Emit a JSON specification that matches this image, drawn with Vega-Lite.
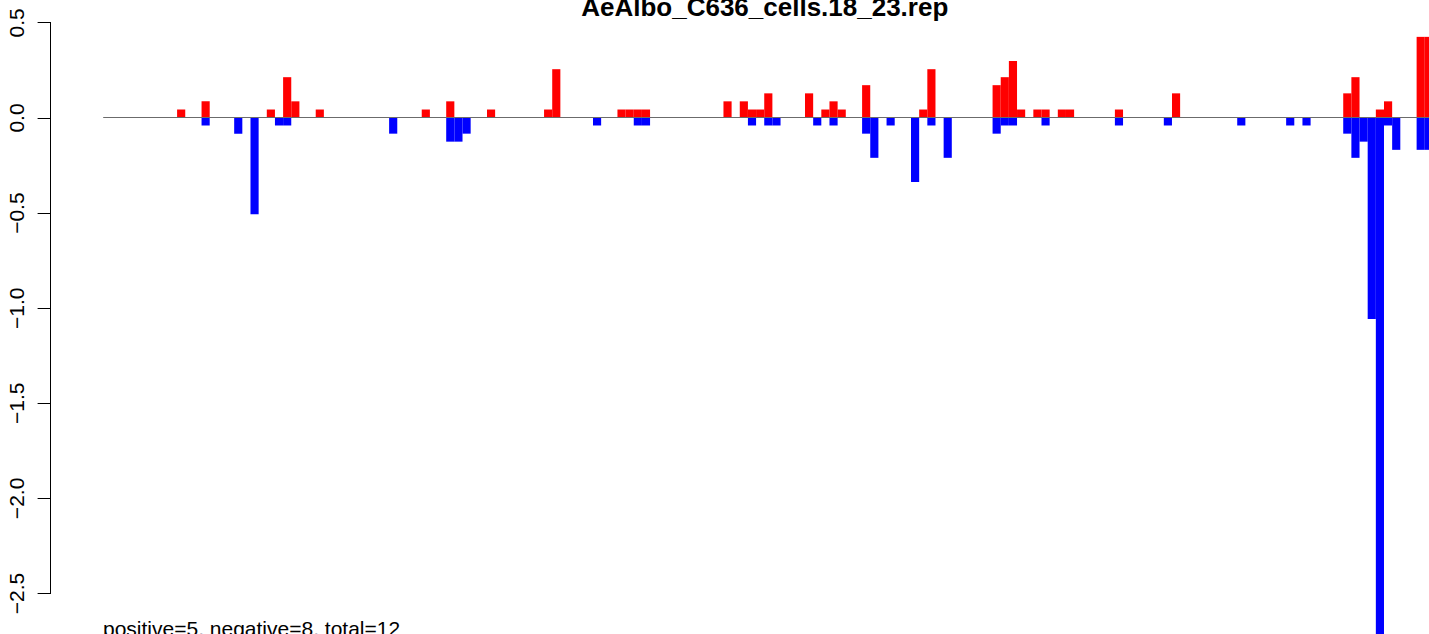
{
  "$schema": "https://vega.github.io/schema/vega-lite/v6.json",
  "width": 1378.5,
  "height": 634,
  "autosize": {"type": "none"},
  "padding": {"left": 50.5, "top": 0, "right": 0, "bottom": 0},
  "background": "white",
  "config": {"view": {"stroke": null}, "font": "Liberation Sans"},
  "title": {
    "text": "AeAlbo_C636_cells.18_23.rep",
    "font": "Liberation Sans",
    "fontSize": 26,
    "fontWeight": "bold",
    "color": "black",
    "anchor": "middle",
    "frame": "group",
    "baseline": "alphabetic",
    "offset": -41.5,
    "dx": 25
  },
  "datasets": {
    "bars": [
      {"i": 9, "v": 0.042, "s": "pos"},
      {"i": 12, "v": 0.085, "s": "pos"},
      {"i": 20, "v": 0.042, "s": "pos"},
      {"i": 22, "v": 0.212, "s": "pos"},
      {"i": 23, "v": 0.085, "s": "pos"},
      {"i": 26, "v": 0.042, "s": "pos"},
      {"i": 39, "v": 0.042, "s": "pos"},
      {"i": 42, "v": 0.085, "s": "pos"},
      {"i": 47, "v": 0.042, "s": "pos"},
      {"i": 54, "v": 0.042, "s": "pos"},
      {"i": 55, "v": 0.254, "s": "pos"},
      {"i": 63, "v": 0.042, "s": "pos"},
      {"i": 64, "v": 0.042, "s": "pos"},
      {"i": 65, "v": 0.042, "s": "pos"},
      {"i": 66, "v": 0.042, "s": "pos"},
      {"i": 76, "v": 0.085, "s": "pos"},
      {"i": 78, "v": 0.085, "s": "pos"},
      {"i": 79, "v": 0.042, "s": "pos"},
      {"i": 80, "v": 0.042, "s": "pos"},
      {"i": 81, "v": 0.127, "s": "pos"},
      {"i": 86, "v": 0.127, "s": "pos"},
      {"i": 88, "v": 0.042, "s": "pos"},
      {"i": 89, "v": 0.085, "s": "pos"},
      {"i": 90, "v": 0.042, "s": "pos"},
      {"i": 93, "v": 0.17, "s": "pos"},
      {"i": 100, "v": 0.042, "s": "pos"},
      {"i": 101, "v": 0.254, "s": "pos"},
      {"i": 109, "v": 0.17, "s": "pos"},
      {"i": 110, "v": 0.212, "s": "pos"},
      {"i": 111, "v": 0.297, "s": "pos"},
      {"i": 112, "v": 0.042, "s": "pos"},
      {"i": 114, "v": 0.042, "s": "pos"},
      {"i": 115, "v": 0.042, "s": "pos"},
      {"i": 117, "v": 0.042, "s": "pos"},
      {"i": 118, "v": 0.042, "s": "pos"},
      {"i": 124, "v": 0.042, "s": "pos"},
      {"i": 131, "v": 0.127, "s": "pos"},
      {"i": 152, "v": 0.127, "s": "pos"},
      {"i": 153, "v": 0.212, "s": "pos"},
      {"i": 156, "v": 0.042, "s": "pos"},
      {"i": 157, "v": 0.085, "s": "pos"},
      {"i": 161, "v": 0.424, "s": "pos"},
      {"i": 162, "v": 0.424, "s": "pos"},
      {"i": 12, "v": -0.042, "s": "neg"},
      {"i": 16, "v": -0.085, "s": "neg"},
      {"i": 18, "v": -0.509, "s": "neg"},
      {"i": 21, "v": -0.042, "s": "neg"},
      {"i": 22, "v": -0.042, "s": "neg"},
      {"i": 35, "v": -0.085, "s": "neg"},
      {"i": 42, "v": -0.127, "s": "neg"},
      {"i": 43, "v": -0.127, "s": "neg"},
      {"i": 44, "v": -0.085, "s": "neg"},
      {"i": 60, "v": -0.042, "s": "neg"},
      {"i": 65, "v": -0.042, "s": "neg"},
      {"i": 66, "v": -0.042, "s": "neg"},
      {"i": 79, "v": -0.042, "s": "neg"},
      {"i": 81, "v": -0.042, "s": "neg"},
      {"i": 82, "v": -0.042, "s": "neg"},
      {"i": 87, "v": -0.042, "s": "neg"},
      {"i": 89, "v": -0.042, "s": "neg"},
      {"i": 93, "v": -0.085, "s": "neg"},
      {"i": 94, "v": -0.212, "s": "neg"},
      {"i": 96, "v": -0.042, "s": "neg"},
      {"i": 99, "v": -0.339, "s": "neg"},
      {"i": 101, "v": -0.042, "s": "neg"},
      {"i": 103, "v": -0.212, "s": "neg"},
      {"i": 109, "v": -0.085, "s": "neg"},
      {"i": 110, "v": -0.042, "s": "neg"},
      {"i": 111, "v": -0.042, "s": "neg"},
      {"i": 115, "v": -0.042, "s": "neg"},
      {"i": 124, "v": -0.042, "s": "neg"},
      {"i": 130, "v": -0.042, "s": "neg"},
      {"i": 139, "v": -0.042, "s": "neg"},
      {"i": 145, "v": -0.042, "s": "neg"},
      {"i": 147, "v": -0.042, "s": "neg"},
      {"i": 152, "v": -0.085, "s": "neg"},
      {"i": 153, "v": -0.212, "s": "neg"},
      {"i": 154, "v": -0.127, "s": "neg"},
      {"i": 155, "v": -1.06, "s": "neg"},
      {"i": 156, "v": -2.9, "s": "neg"},
      {"i": 157, "v": -0.042, "s": "neg"},
      {"i": 158, "v": -0.17, "s": "neg"},
      {"i": 161, "v": -0.17, "s": "neg"},
      {"i": 162, "v": -0.17, "s": "neg"}
    ],
    "baseline": [{"from": 0, "to": 170, "level": 0}],
    "yaxisline": [{"lo": -2.5, "hi": 0.5, "at": -6.462}]
  },
  "layer": [
    {
      "data": {"name": "bars"},
      "mark": {"type": "bar", "clip": true, "stroke": null, "binSpacing": 0},
      "encoding": {
        "x": {
          "field": "i",
          "type": "quantitative",
          "bin": {"binned": true, "step": 1},
          "scale": {"domain": [-6.462, 162.58], "nice": false, "zero": false},
          "axis": {
            "domain": false,
            "ticks": false,
            "labels": false,
            "grid": false,
            "title": "positive=5, negative=8, total=12",
            "titleFont": "Liberation Sans",
            "titleFontSize": 21,
            "titleFontWeight": "normal",
            "titleColor": "black",
            "titleAnchor": "start",
            "titleAlign": "left",
            "titleBaseline": "alphabetic",
            "titleX": 52,
            "titleY": 1
          }
        },
        "y": {
          "field": "v",
          "type": "quantitative",
          "stack": null,
          "scale": {"domain": [-2.7156, 0.6178], "nice": false, "zero": false},
          "axis": {
            "values": [-2.5, -2, -1.5, -1, -0.5, 0, 0.5],
            "format": ".1f",
            "domain": false,
            "grid": false,
            "title": null,
            "tickSize": 13.4,
            "tickColor": "black",
            "tickWidth": 1,
            "labelAngle": 270,
            "labelAlign": "center",
            "labelBaseline": "alphabetic",
            "labelPadding": 13.8,
            "labelFont": "Liberation Sans",
            "labelFontSize": 21,
            "labelColor": "black"
          }
        },
        "color": {
          "field": "s",
          "type": "nominal",
          "scale": {"domain": ["pos", "neg"], "range": ["#FF0000", "#0000FF"]},
          "legend": null
        }
      }
    },
    {
      "data": {"name": "baseline"},
      "mark": {"type": "rule", "color": "#6b6b6b", "strokeWidth": 1, "clip": true},
      "encoding": {
        "x": {"field": "from", "type": "quantitative"},
        "x2": {"field": "to"},
        "y": {"field": "level", "type": "quantitative"}
      }
    },
    {
      "data": {"name": "yaxisline"},
      "mark": {"type": "rule", "color": "black", "strokeWidth": 1},
      "encoding": {
        "x": {"field": "at", "type": "quantitative"},
        "y": {"field": "lo", "type": "quantitative"},
        "y2": {"field": "hi"}
      }
    }
  ]
}
